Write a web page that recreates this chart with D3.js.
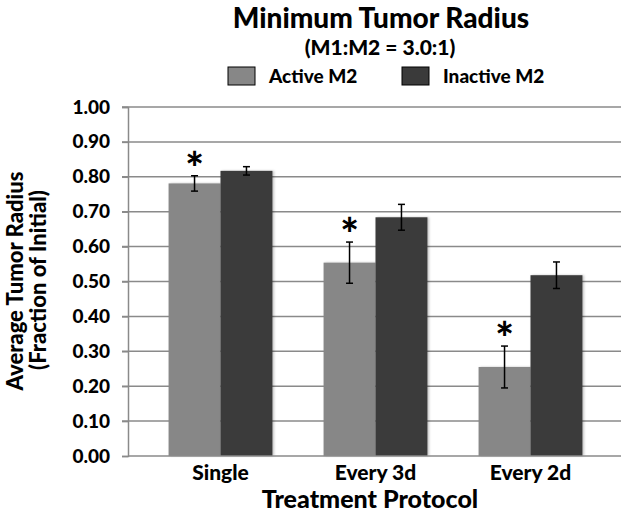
<!DOCTYPE html>
<html>
<head>
<meta charset="utf-8">
<script src="https://cdn.jsdelivr.net/npm/d3@7"></script>
<style>
  body { margin: 0; background: #fff; }
  text { font-family: Lato, "Open Sans", sans-serif; font-weight: 900; fill: #000; }
</style>
</head>
<body>
<div id="chart"></div>
<script>
// data
const categories = ["Single", "Every 3d", "Every 2d"];
const seriesNames = ["Active M2", "Inactive M2"];
const activeValues = [0.781, 0.554, 0.255];
const activeErrors = [0.022, 0.059, 0.060];
const inactiveValues = [0.817, 0.684, 0.518];
const inactiveErrors = [0.012, 0.037, 0.038];
const significant = [true, true, true]; // asterisk over Active M2
const yTicks = [0, 0.1, 0.2, 0.3, 0.4, 0.5, 0.6, 0.7, 0.8, 0.9, 1.0];

const colors = {"Active M2": "#878787", "Inactive M2": "#3a3a3a"};

const width = 630, height = 512;
const plotLeft = 128, plotRight = 621, plotTop = 107, plotBottom = 456;

const svg = d3.select("#chart").append("svg")
    .attr("width", width)
    .attr("height", height);

// soft shadow like the excel bars
const defs = svg.append("defs");
const f = defs.append("filter").attr("id", "shadow")
    .attr("x", "-10%").attr("y", "-10%").attr("width", "130%").attr("height", "120%");
f.append("feDropShadow").attr("dx", 1.5).attr("dy", 0).attr("stdDeviation", 1)
    .attr("flood-color", "#000").attr("flood-opacity", 0.25);

const y = d3.scaleLinear().domain([0, 1]).range([plotBottom, plotTop]);
const x = d3.scaleBand().domain(categories).range([143, 608])
    .paddingInner(0.33).paddingOuter(0.165);
const xs = d3.scaleBand().domain(seriesNames).range([0, x.bandwidth()]);

// gridlines
svg.append("g").selectAll("line.grid")
    .data(yTicks.filter(d => d > 0))
    .enter().append("line")
    .attr("class", "grid")
    .attr("x1", plotLeft - 6).attr("x2", plotRight)
    .attr("y1", d => y(d)).attr("y2", d => y(d))
    .attr("stroke", "#8a8a8a").attr("stroke-width", 1.5);

// y axis
const yAxis = svg.append("g")
    .attr("transform", `translate(${plotLeft},0)`)
    .call(d3.axisLeft(y).tickValues(yTicks).tickFormat(d3.format(".2f")).tickSize(6).tickPadding(12));
yAxis.select(".domain").attr("stroke", "#8a8a8a").attr("stroke-width", 1.5);
yAxis.selectAll(".tick line").attr("stroke", "#8a8a8a").attr("stroke-width", 1.5);
yAxis.selectAll(".tick text").style("font-size", "19px").attr("fill", "#000");

// build rows
const rows = categories.map((c, i) => ({
    category: c,
    bars: [
        {series: "Active M2", value: activeValues[i], err: activeErrors[i], star: significant[i]},
        {series: "Inactive M2", value: inactiveValues[i], err: inactiveErrors[i], star: false}
    ]
}));

const groups = svg.selectAll("g.group")
    .data(rows)
    .enter().append("g")
    .attr("class", "group")
    .attr("transform", d => `translate(${x(d.category)},0)`);

groups.selectAll("rect")
    .data(d => d.bars)
    .enter().append("rect")
    .attr("x", d => xs(d.series))
    .attr("y", d => y(d.value))
    .attr("width", xs.bandwidth())
    .attr("height", d => y(0) - y(d.value))
    .attr("fill", d => colors[d.series])
    .attr("filter", "url(#shadow)");

// x axis line
svg.append("line")
    .attr("x1", plotLeft).attr("x2", plotRight)
    .attr("y1", plotBottom).attr("y2", plotBottom)
    .attr("stroke", "#8a8a8a").attr("stroke-width", 1.5);

// error bars
const eb = groups.selectAll("g.err")
    .data(d => d.bars)
    .enter().append("g")
    .attr("class", "err")
    .attr("transform", d => `translate(${xs(d.series) + xs.bandwidth() / 2},0)`);
eb.append("line")
    .attr("y1", d => y(d.value + d.err)).attr("y2", d => y(d.value - d.err));
eb.append("line")
    .attr("x1", -3.5).attr("x2", 3.5)
    .attr("y1", d => y(d.value + d.err)).attr("y2", d => y(d.value + d.err));
eb.append("line")
    .attr("x1", -3.5).attr("x2", 3.5)
    .attr("y1", d => y(d.value - d.err)).attr("y2", d => y(d.value - d.err));
eb.selectAll("line").attr("stroke", "#000").attr("stroke-width", 1.5);

// asterisks
groups.selectAll("text.star")
    .data(d => d.bars.filter(b => b.star))
    .enter().append("text")
    .attr("class", "star")
    .attr("x", d => xs(d.series) + xs.bandwidth() / 2)
    .attr("y", d => y(d.value + d.err) + 8)
    .attr("text-anchor", "middle")
    .style("font-size", "44px")
    .text("*");

// category labels
svg.selectAll("text.cat")
    .data(categories)
    .enter().append("text")
    .attr("class", "cat")
    .attr("x", d => x(d) + x.bandwidth() / 2)
    .attr("y", 480)
    .attr("text-anchor", "middle")
    .style("font-size", "21px")
    .text(d => d);

// axis titles
svg.append("text")
    .attr("x", 370).attr("y", 508)
    .attr("text-anchor", "middle")
    .style("font-size", "25px")
    .text("Treatment Protocol");

svg.append("text")
    .attr("transform", "translate(23,281) rotate(-90)")
    .attr("text-anchor", "middle")
    .style("font-size", "22px")
    .text("Average Tumor Radius");
svg.append("text")
    .attr("transform", "translate(46,280) rotate(-90)")
    .attr("text-anchor", "middle")
    .style("font-size", "22px")
    .text("(Fraction of Initial)");

// title
svg.append("text")
    .attr("x", 381).attr("y", 28)
    .attr("text-anchor", "middle")
    .style("font-size", "28px")
    .text("Minimum Tumor Radius");
svg.append("text")
    .attr("x", 380).attr("y", 55)
    .attr("text-anchor", "middle")
    .style("font-size", "21px")
    .text("(M1:M2 = 3.0:1)");

// legend
const legendX = [228, 402];
const legend = svg.selectAll("g.legend")
    .data(seriesNames)
    .enter().append("g")
    .attr("class", "legend")
    .attr("transform", (d, i) => `translate(${legendX[i]},67)`);
legend.append("rect")
    .attr("width", 27).attr("height", 18)
    .attr("fill", d => colors[d])
    .attr("stroke", "#000").attr("stroke-width", 1);
legend.append("text")
    .attr("x", 41).attr("y", 16)
    .style("font-size", "19px")
    .text(d => d);
</script>
</body>
</html>
